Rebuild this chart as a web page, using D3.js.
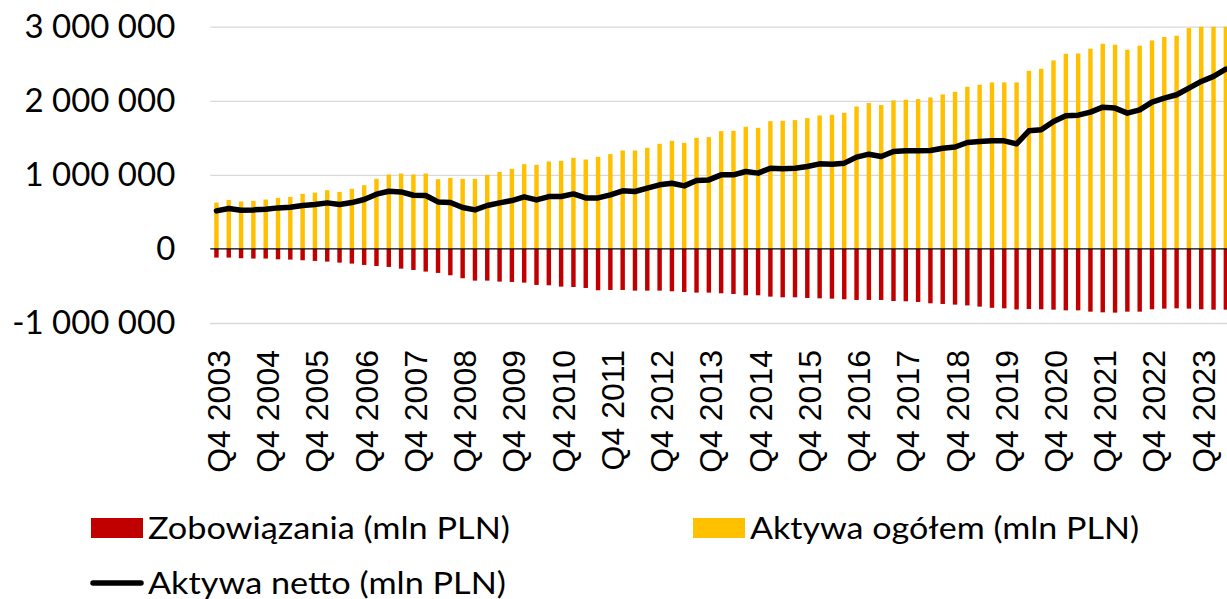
<!DOCTYPE html>
<html>
<head>
<meta charset="utf-8">
<script src="https://cdn.jsdelivr.net/npm/d3@7"></script>
<style>
  html, body { margin: 0; padding: 0; background: #fff; }
  svg { display: block; }
</style>
</head>
<body>
<div id="chart"></div>
<script>
// quarters from Q4 2003, one label every fourth quarter
var firstYear = 2003;
var quarterCount = 83;
var quarters = d3.range(quarterCount).map(function(i){
  var q = (3 + i) % 4 + 1, yr = firstYear + Math.floor((3 + i) / 4);
  return "Q" + q + " " + yr;
});
var tickQuarters = quarters.filter(function(d){ return d.indexOf("Q4") === 0; });

// mln PLN
var aktywaOgolem = [
  626000, 662000, 640000, 649000, 667000, 689000, 703000, 743000, 761000, 793000,
  770000, 811000, 860000, 946000, 1005000, 1018000, 1005000, 1018000, 941000, 959000,
  946000, 946000, 1000000, 1040000, 1081000, 1144000, 1135000, 1180000, 1189000, 1230000,
  1207000, 1243000, 1280000, 1329000, 1329000, 1365000, 1419000, 1459000, 1432000, 1500000,
  1509000, 1590000, 1595000, 1649000, 1635000, 1725000, 1730000, 1739000, 1766000, 1802000,
  1811000, 1838000, 1923000, 1969000, 1942000, 2005000, 2014000, 2023000, 2045000, 2086000,
  2122000, 2189000, 2216000, 2248000, 2248000, 2248000, 2405000, 2432000, 2545000, 2635000,
  2639000, 2703000, 2770000, 2757000, 2689000, 2743000, 2815000, 2861000, 2878000, 2982000,
  3076000, 3149000, 3248000
];
var zobowiazania = [
  -117000, -117000, -126000, -130000, -130000, -140000, -144000, -153000, -162000, -171000,
  -185000, -198000, -216000, -230000, -243000, -266000, -284000, -306000, -324000, -356000,
  -396000, -428000, -428000, -441000, -446000, -455000, -486000, -491000, -509000, -514000,
  -527000, -558000, -554000, -554000, -563000, -563000, -563000, -572000, -581000, -590000,
  -590000, -599000, -608000, -626000, -626000, -644000, -653000, -653000, -662000, -667000,
  -671000, -680000, -689000, -689000, -689000, -703000, -707000, -716000, -734000, -743000,
  -752000, -763000, -779000, -795000, -802000, -817000, -811000, -815000, -820000, -829000,
  -829000, -847000, -856000, -860000, -847000, -847000, -815000, -806000, -802000, -806000,
  -815000, -820000, -820000
];
var aktywaNetto = [
  514000, 545000, 523000, 527000, 536000, 554000, 563000, 586000, 599000, 622000,
  599000, 626000, 667000, 739000, 779000, 770000, 725000, 721000, 635000, 626000,
  559000, 527000, 586000, 622000, 653000, 703000, 662000, 707000, 707000, 743000,
  689000, 689000, 730000, 784000, 775000, 820000, 865000, 887000, 851000, 923000,
  932000, 1000000, 1000000, 1045000, 1023000, 1090000, 1081000, 1090000, 1113000, 1149000,
  1144000, 1158000, 1239000, 1279000, 1248000, 1315000, 1324000, 1324000, 1329000, 1360000,
  1376000, 1437000, 1450000, 1459000, 1459000, 1419000, 1595000, 1608000, 1721000, 1797000,
  1806000, 1847000, 1914000, 1901000, 1833000, 1878000, 1982000, 2036000, 2081000, 2171000,
  2261000, 2329000, 2428000
];
var yTicks = [-1000000, 0, 1000000, 2000000, 3000000];
var legendItems = [
  {name: "Zobowiązania (mln PLN)", kind: "bar", color: "#C00000"},
  {name: "Aktywa ogółem (mln PLN)", kind: "bar", color: "#FFC000"},
  {name: "Aktywa netto (mln PLN)", kind: "line", color: "#000000"}
];

var width = 1227, height = 599;
var plot = {left: 210.3, right: 1232, top: 26.7, bottom: 323};

var locale = d3.formatLocale({decimal: ",", thousands: " ", grouping: [3], currency: ["", ""], minus: "-"});
var fmt = locale.format(",d");

var svg = d3.select("#chart").append("svg")
  .attr("width", width)
  .attr("height", height);

var x = d3.scaleBand()
  .domain(quarters)
  .range([plot.left, plot.right])
  .paddingInner(0.64)
  .paddingOuter(0.32);

var y = d3.scaleLinear()
  .domain([-1000000, 3000000])
  .range([plot.bottom, plot.top]);

var cx = function(d){ return x(d) + x.bandwidth() / 2; };

svg.append("clipPath").attr("id", "plotClip")
  .append("rect")
  .attr("x", plot.left).attr("y", plot.top)
  .attr("width", plot.right - plot.left).attr("height", plot.bottom - plot.top);

// gridlines
svg.append("g")
  .attr("class", "grid")
  .attr("transform", "translate(" + plot.left + ",0)")
  .call(d3.axisLeft(y).tickValues(yTicks.filter(function(v){ return v !== 0; }))
    .tickSize(-(plot.right - plot.left)).tickFormat(""))
  .call(function(g){ g.select(".domain").remove(); })
  .selectAll("line")
    .attr("stroke", "#D9D9D9")
    .attr("stroke-width", 1.3);

var bars = svg.append("g").attr("clip-path", "url(#plotClip)");

bars.selectAll(".ogolem")
  .data(quarters)
  .enter().append("rect")
    .attr("class", "ogolem")
    .attr("x", function(d){ return x(d); })
    .attr("width", x.bandwidth())
    .attr("y", function(d, i){ return y(aktywaOgolem[i]); })
    .attr("height", function(d, i){ return y(0) - y(aktywaOgolem[i]); })
    .attr("fill", "#FFC000");

bars.selectAll(".zobow")
  .data(quarters)
  .enter().append("rect")
    .attr("class", "zobow")
    .attr("x", function(d){ return x(d); })
    .attr("width", x.bandwidth())
    .attr("y", y(0))
    .attr("height", function(d, i){ return y(zobowiazania[i]) - y(0); })
    .attr("fill", "#C00000");

// zero axis line
svg.append("line")
  .attr("x1", plot.left).attr("x2", plot.right)
  .attr("y1", y(0)).attr("y2", y(0))
  .attr("stroke", "#000")
  .attr("stroke-width", 1.3);

var line = d3.line()
  .x(function(d){ return cx(d); })
  .y(function(d, i){ return y(aktywaNetto[i]); });

svg.append("path")
  .datum(quarters)
  .attr("fill", "none")
  .attr("stroke", "#000")
  .attr("stroke-width", 5.5)
  .attr("stroke-linejoin", "round")
  .attr("stroke-linecap", "round")
  .attr("d", line);

// y axis labels
svg.append("g")
  .attr("transform", "translate(" + plot.left + ",0)")
  .call(d3.axisLeft(y).tickValues(yTicks).tickFormat(fmt).tickSize(0).tickPadding(35))
  .call(function(g){ g.select(".domain").remove(); })
  .selectAll("text")
    .attr("font-family", "Lato, 'Open Sans', sans-serif")
    .attr("font-size", 33)
    .attr("fill", "#000");

// x axis labels, rotated
svg.append("g")
  .attr("transform", "translate(0," + plot.bottom + ")")
  .call(d3.axisBottom(x).tickValues(tickQuarters).tickSize(0))
  .call(function(g){ g.select(".domain").remove(); })
  .selectAll("text")
    .attr("font-family", "'Liberation Sans', Arial, sans-serif")
    .attr("font-size", 32)
    .attr("fill", "#000")
    .attr("text-anchor", "end")
    .attr("dy", null)
    .attr("y", 0)
    .attr("transform", "translate(13.5,27) rotate(-90)");

// legend
var legendPos = [{x: 91, y: 528, w: 362}, {x: 693, y: 528, w: 389}, {x: 91, y: 583, w: 358}];
var legend = svg.append("g").selectAll("g")
  .data(legendItems)
  .enter().append("g")
    .attr("transform", function(d, i){ return "translate(" + legendPos[i].x + "," + legendPos[i].y + ")"; });

legend.filter(function(d){ return d.kind === "bar"; })
  .append("rect")
    .attr("x", 0).attr("y", -10)
    .attr("width", 52).attr("height", 20)
    .attr("fill", function(d){ return d.color; });

legend.filter(function(d){ return d.kind === "line"; })
  .append("line")
    .attr("x1", 2).attr("x2", 50)
    .attr("stroke", function(d){ return d.color; })
    .attr("stroke-width", 5.5)
    .attr("stroke-linecap", "round");

legend.append("text")
  .attr("x", 57)
  .attr("y", 10.5)
  .attr("font-family", "Lato, 'Open Sans', sans-serif")
  .attr("font-size", 31)
  .attr("fill", "#000")
  .attr("textLength", function(d, i){ return legendPos[i].w; })
  .attr("lengthAdjust", "spacingAndGlyphs")
  .text(function(d){ return d.name; });
</script>
</body>
</html>
